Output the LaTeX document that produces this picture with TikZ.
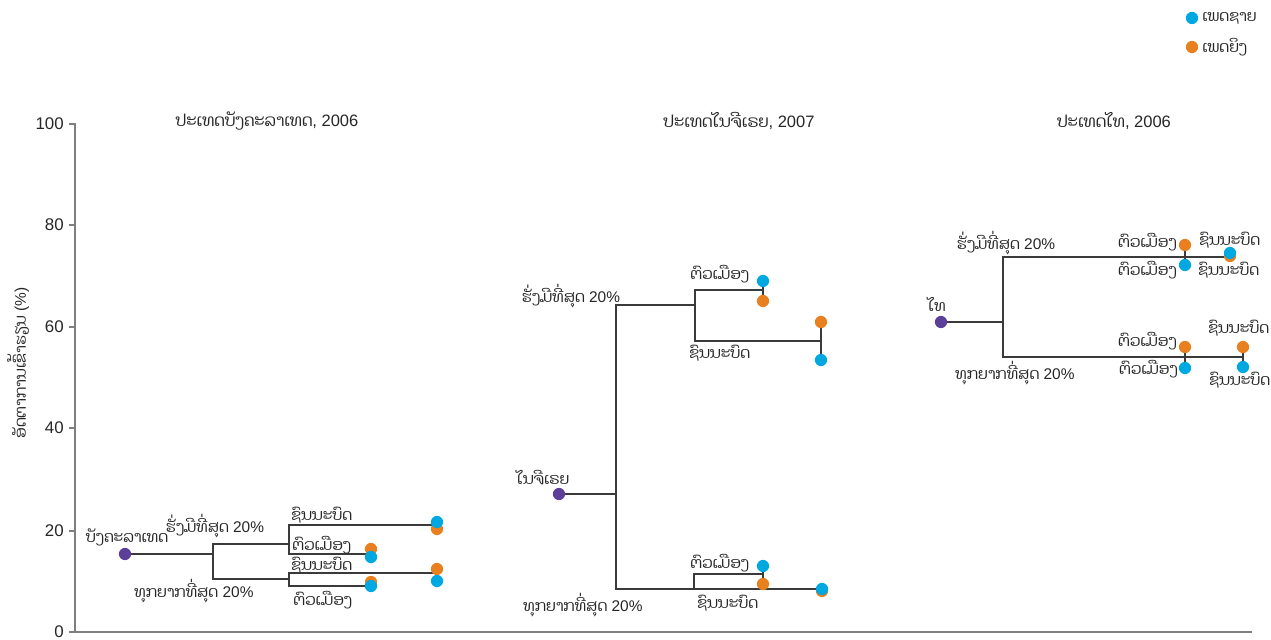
\documentclass[tikz,border=0pt]{standalone}
\usepackage{fontspec}
\setmainfont{Liberation Sans}
\newfontfamily\laofont[Script=Lao]{Dhyana}
\usepackage{xcolor}
\usepackage{tikz}
\usetikzlibrary{positioning,backgrounds}

\definecolor{maleblue}{HTML}{00A8E1}
\definecolor{femaleorange}{HTML}{E8801F}
\definecolor{rootpurple}{HTML}{5B3F99}
\definecolor{axisgray}{HTML}{7F7F7F}
\definecolor{linegray}{HTML}{3A3A3A}
\newcommand{\lo}[1]{{\laofont #1}}

\begin{document}
\begin{tikzpicture}[x=0.02cm,y=-0.02cm,
  dot/.style={circle,inner sep=0pt,minimum size=0.245cm},
  male/.style={dot,fill=maleblue},
  female/.style={dot,fill=femaleorange},
  root/.style={dot,fill=rootpurple},
  lbl/.style={inner sep=0pt,font=\fontsize{8.8}{10}\selectfont,text=black!85},
  title/.style={lbl,font=\fontsize{9.4}{11}\selectfont},
  tree/.style={draw=linegray,line width=0.8pt},
  axis/.style={draw=axisgray,line width=1.1pt}]
  \useasboundingbox (0,0) rectangle (1271,639);

  % axes
  \draw[axis] (75,123) -- (75,632) -- (1252,632);
  \foreach \v/\y in {0/632,20/531,40/428,60/327,80/225,100/124}
    \draw[axis] (75,\y) -- (69,\y) node[lbl,left=2.5pt,font=\fontsize{9.6}{11}\selectfont] {\v};
  \node[lbl,rotate=90] (ylabel) at (18,363) {\lo{ອັດຕາການເຂົ້າຮຽນ} (\%)};

  % legend
  \node[male] (legm) at (1192,18) {};
  \node[lbl,right=2pt of legm] (legmt) {\lo{ເພດຊາຍ}};
  \node[female] (legf) at (1192,47) {};
  \node[lbl,right=2pt of legf] (legft) {\lo{ເພດຍິງ}};

  % panel titles
  \node[title] (tbg) at (267,121) {\lo{ປະເທດບັງຄະລາເທດ}, 2006};
  \node[title] (tng) at (739,121) {\lo{ປະເທດໄນຈີເຣຍ}, 2007};
  \node[title] (tth) at (1114,121) {\lo{ປະເທດໄທ}, 2006};

  % Bangladesh
  \node[root] (bg) at (125,554) {};
  \coordinate (bgR) at (213,544);
  \coordinate (bgP) at (213,579);
  \coordinate (bgRJ) at (289,544);
  \coordinate (bgPJ) at (289,579);
  \coordinate (bgRr) at (437,525);
  \coordinate (bgRu) at (371,554);
  \coordinate (bgPr) at (437,573);
  \coordinate (bgPu) at (371,586);
  \node[female] (bgRrF) at (437,529) {};
  \node[male]   (bgRrM) at (437,522) {};
  \node[female] (bgRuF) at (371,549) {};
  \node[male]   (bgRuM) at (371,557) {};
  \node[female] (bgPrF) at (437,569) {};
  \node[male]   (bgPrM) at (437,581) {};
  \node[female] (bgPuF) at (371,582) {};
  \node[male]   (bgPuM) at (371,586) {};
  \node[lbl] (bgl) at (127,537) {\lo{ບັງຄະລາເທດ}};
  \node[lbl] (bgRl) at (215,526) {\lo{ຮັ່ງມີທີ່ສຸດ} 20\%};
  \node[lbl] (bgPl) at (194,591) {\lo{ທຸກຍາກທີ່ສຸດ} 20\%};
  \node[lbl,anchor=west] (bgRrl) at (291,515) {\lo{ຊົນນະບົດ}};
  \node[lbl,anchor=west] (bgRul) at (292,545) {\lo{ຕົວເມືອງ}};
  \node[lbl,anchor=west] (bgPrl) at (291,565) {\lo{ຊົນນະບົດ}};
  \node[lbl,anchor=west] (bgPul) at (293,600) {\lo{ຕົວເມືອງ}};

  % Nigeria
  \node[root] (ng) at (559,494) {};
  \coordinate (ngR) at (616,305);
  \coordinate (ngP) at (616,589);
  \coordinate (ngRJ) at (695,305);
  \coordinate (ngPJ) at (694,589);
  \coordinate (ngRu) at (763,290);
  \coordinate (ngRr) at (821,341);
  \coordinate (ngPu) at (763,574);
  \coordinate (ngPr) at (822,589);
  \node[male]   (ngRuM) at (763,281) {};
  \node[female] (ngRuF) at (763,301) {};
  \node[female] (ngRrF) at (821,322) {};
  \node[male]   (ngRrM) at (821,360) {};
  \node[male]   (ngPuM) at (763,566) {};
  \node[female] (ngPuF) at (763,584) {};
  \node[female] (ngPrF) at (822,591) {};
  \node[male]   (ngPrM) at (822,589) {};
  \node[lbl] (ngl) at (543,478) {\lo{ໄນຈີເຣຍ}};
  \node[lbl] (ngRl) at (571,296) {\lo{ຮັ່ງມີທີ່ສຸດ} 20\%};
  \node[lbl] (ngPl) at (583,605) {\lo{ທຸກຍາກທີ່ສຸດ} 20\%};
  \node[lbl,anchor=west] (ngRul) at (690,274) {\lo{ຕົວເມືອງ}};
  \node[lbl,anchor=west] (ngRrl) at (689,353) {\lo{ຊົນນະບົດ}};
  \node[lbl,anchor=west] (ngPul) at (690,563) {\lo{ຕົວເມືອງ}};
  \node[lbl,anchor=west] (ngPrl) at (697,603) {\lo{ຊົນນະບົດ}};

  % Thailand
  \node[root] (th) at (941,322) {};
  \coordinate (thR) at (1003,257);
  \coordinate (thP) at (1003,357);
  \coordinate (thRr) at (1230,257);
  \coordinate (thPr) at (1243,357);
  \node[female] (thRuF) at (1185,245) {};
  \node[male]   (thRuM) at (1185,265) {};
  \node[female] (thRrF) at (1230,256) {};
  \node[male]   (thRrM) at (1230,253) {};
  \node[female] (thPuF) at (1185,347) {};
  \node[male]   (thPuM) at (1185,368) {};
  \node[female] (thPrF) at (1243,347) {};
  \node[male]   (thPrM) at (1243,367) {};
  \node[lbl] (thl) at (937,304) {\lo{ໄທ}};
  \node[lbl] (thRl) at (1006,243) {\lo{ຮັ່ງມີທີ່ສຸດ} 20\%};
  \node[lbl] (thPl) at (1015,373) {\lo{ທຸກຍາກທີ່ສຸດ} 20\%};
  \node[lbl,anchor=east] (thRulF) at (1177,242) {\lo{ຕົວເມືອງ}};
  \node[lbl,anchor=east] (thRulM) at (1177,270) {\lo{ຕົວເມືອງ}};
  \node[lbl,anchor=west] (thRrlF) at (1199,240) {\lo{ຊົນນະບົດ}};
  \node[lbl,anchor=west] (thRrlM) at (1198,270) {\lo{ຊົນນະບົດ}};
  \node[lbl,anchor=east] (thPulF) at (1177,341) {\lo{ຕົວເມືອງ}};
  \node[lbl,anchor=east] (thPulM) at (1178,369) {\lo{ຕົວເມືອງ}};
  \node[lbl,anchor=west] (thPrlF) at (1208,328) {\lo{ຊົນນະບົດ}};
  \node[lbl,anchor=west] (thPrlM) at (1209,380) {\lo{ຊົນນະບົດ}};

  \begin{pgfonlayer}{background}
    % Bangladesh tree
    \draw[tree] (bg.center) -| (bgR) -- (bgRJ);
    \draw[tree] (bg.center) -| (bgP) -- (bgPJ);
    \draw[tree] (bgRJ) |- (bgRr);
    \draw[tree] (bgRJ) |- (bgRu);
    \draw[tree] (bgPJ) |- (bgPr);
    \draw[tree] (bgPJ) |- (bgPu);
    \draw[tree] (bgRrM.center) -- (bgRrF.center);
    \draw[tree] (bgRuF.center) -- (bgRuM.center);
    \draw[tree] (bgPrF.center) -- (bgPrM.center);
    \draw[tree] (bgPuF.center) -- (bgPuM.center);
    % Nigeria tree
    \draw[tree] (ng.center) -| (ngR) -- (ngRJ);
    \draw[tree] (ng.center) -| (ngP) -- (ngPJ);
    \draw[tree] (ngRJ) |- (ngRu);
    \draw[tree] (ngRJ) |- (ngRr);
    \draw[tree] (ngPJ) |- (ngPu);
    \draw[tree] (ngPJ) |- (ngPr);
    \draw[tree] (ngRuM.center) -- (ngRuF.center);
    \draw[tree] (ngRrF.center) -- (ngRrM.center);
    \draw[tree] (ngPuM.center) -- (ngPuF.center);
    % Thailand tree
    \draw[tree] (th.center) -| (thR) -- (thRr);
    \draw[tree] (th.center) -| (thP) -- (thPr);
    \draw[tree] (thRuF.center) -- (thRuM.center);
    \draw[tree] (thPuF.center) -- (thPuM.center);
    \draw[tree] (thPrF.center) -- (thPrM.center);
  \end{pgfonlayer}
\end{tikzpicture}
\end{document}
